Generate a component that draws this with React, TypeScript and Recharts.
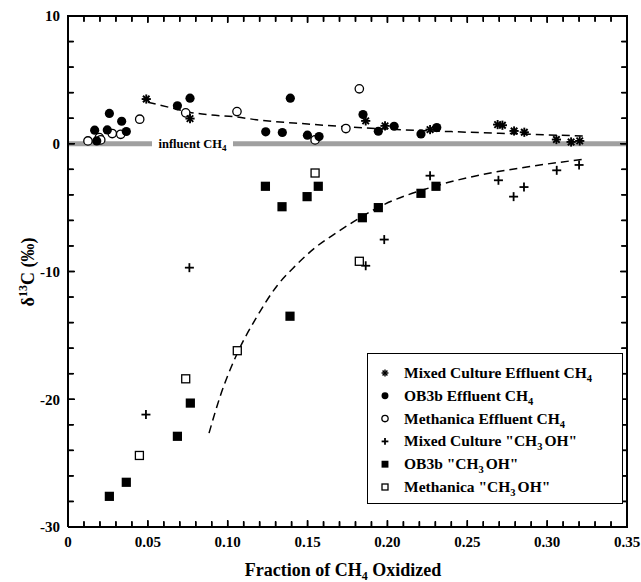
import React from "react";
import { ComposedChart, XAxis, YAxis, Scatter, Line, ReferenceLine } from "recharts";

const FONT = '"Liberation Serif", "Times New Roman", serif';

// [fraction of CH4 oxidized, d13C]
const mixedEffluent = [
    [0.049, 3.5], [0.0764, 1.97], [0.1864, 1.79], [0.1985, 1.4], [0.2267, 1.11],
    [0.269, 1.5], [0.272, 1.45], [0.2793, 1.0], [0.2857, 0.9], [0.3058, 0.33],
    [0.315, 0.14], [0.3204, 0.22],
];
const ob3bEffluent = [
    [0.0167, 1.06], [0.018, 0.22], [0.0246, 1.08], [0.0259, 2.37], [0.0336, 1.76],
    [0.0365, 0.96], [0.0685, 2.97], [0.0764, 3.57], [0.1238, 0.93], [0.1342, 0.88],
    [0.1392, 3.57], [0.1499, 0.67], [0.1572, 0.56], [0.1847, 2.29], [0.1943, 0.98],
    [0.2042, 1.37], [0.221, 0.77], [0.2309, 1.27],
];
const methanicaEffluent = [
    [0.0125, 0.22], [0.0196, 0.48], [0.0205, 0.3], [0.0277, 0.8], [0.033, 0.74],
    [0.0449, 1.92], [0.0737, 2.42], [0.1058, 2.52], [0.1547, 0.3], [0.174, 1.19],
    [0.1824, 4.3],
];
const mixedMeOH = [
    [0.0488, -21.2], [0.076, -9.7], [0.1864, -9.55], [0.198, -7.5], [0.2267, -2.5],
    [0.2695, -2.86], [0.279, -4.14], [0.2855, -3.39], [0.306, -2.08], [0.32, -1.66],
];
const ob3bMeOH = [
    [0.0259, -27.6], [0.0365, -26.5], [0.0685, -22.9], [0.0766, -20.3], [0.1236, -3.33],
    [0.134, -4.93], [0.139, -13.5], [0.1497, -4.14], [0.1567, -3.33], [0.1843, -5.79],
    [0.1943, -5.0], [0.221, -3.88], [0.2304, -3.33],
];
const methanicaMeOH = [
    [0.0447, -24.4], [0.0737, -18.4], [0.106, -16.2], [0.1547, -2.29], [0.1824, -9.2],
];

// dashed fit curves
const effluentFit = [
    [0.05, 3.25], [0.065, 2.8], [0.076, 2.47], [0.09, 2.25], [0.105, 2.1], [0.12, 1.85],
    [0.15, 1.55], [0.175, 1.32], [0.2, 1.15], [0.24, 0.95], [0.28, 0.78], [0.324, 0.6],
];
const methanolFit = [
    [0.0883, -22.65], [0.0952, -19.8], [0.106, -16.4], [0.118, -13.6], [0.1307, -11.15],
    [0.142, -9.6], [0.1547, -8.14], [0.168, -6.97], [0.1818, -5.87], [0.194, -5.0],
    [0.2304, -3.3], [0.26, -2.4], [0.2914, -1.74], [0.3237, -1.2],
];

const xDomain = [0, 0.35];
const yDomain = [-30, 10];
const xTicks = [0, 0.01, 0.02, 0.03, 0.04, 0.05, 0.06, 0.07, 0.08, 0.09, 0.1, 0.11, 0.12,
    0.13, 0.14, 0.15, 0.16, 0.17, 0.18, 0.19, 0.2, 0.21, 0.22, 0.23, 0.24, 0.25, 0.26, 0.27,
    0.28, 0.29, 0.3, 0.31, 0.32, 0.33, 0.34, 0.35];
const yTicks = [-30, -28, -26, -24, -22, -20, -18, -16, -14, -12, -10, -8, -6, -4, -2, 0,
    2, 4, 6, 8, 10];
const influentGap = [0.0526, 0.1033];

// plot box inside the 641 x 582 chart
const PLOT = { left: 68, top: 16, right: 627, bottom: 527 };

const pts = (arr: number[][]) => arr.map(([x, y]) => ({ x, y }));
const isMajorX = (v: number) => Math.round(v * 100) % 5 === 0;
const isMajorY = (v: number) => Math.round(v) % 10 === 0;
const px = (v: number) => PLOT.left + ((v - xDomain[0]) / (xDomain[1] - xDomain[0])) * (PLOT.right - PLOT.left);
const py = (v: number) => PLOT.bottom - ((v - yDomain[0]) / (yDomain[1] - yDomain[0])) * (PLOT.bottom - PLOT.top);

const Star = ({ cx, cy, s = 1 }: any) => {
    const r = 4.6 * s;
    const d = r * 0.7071;
    return (
        <g stroke="#000" strokeWidth={1.9 * s}>
            <line x1={cx - r} y1={cy} x2={cx + r} y2={cy} />
            <line x1={cx} y1={cy - r} x2={cx} y2={cy + r} />
            <line x1={cx - d} y1={cy - d} x2={cx + d} y2={cy + d} />
            <line x1={cx - d} y1={cy + d} x2={cx + d} y2={cy - d} />
        </g>
    );
};
const Dot = ({ cx, cy, s = 1 }: any) => <circle cx={cx} cy={cy} r={4.6 * s} fill="#000" />;
const Ring = ({ cx, cy, s = 1 }: any) => (
    <circle cx={cx} cy={cy} r={4.2 * s} fill="#fff" stroke="#000" strokeWidth={1.3} />
);
const Plus = ({ cx, cy, s = 1 }: any) => {
    const r = 4.5 * s;
    return (
        <g stroke="#000" strokeWidth={1.8}>
            <line x1={cx - r} y1={cy} x2={cx + r} y2={cy} />
            <line x1={cx} y1={cy - r} x2={cx} y2={cy + r} />
        </g>
    );
};
const Box = ({ cx, cy, s = 1 }: any) => {
    const h = 4.6 * s;
    return <rect x={cx - h} y={cy - h} width={2 * h} height={2 * h} fill="#000" />;
};
const OpenBox = ({ cx, cy, s = 1 }: any) => {
    const h = 4.0 * s;
    return <rect x={cx - h} y={cy - h} width={2 * h} height={2 * h} fill="#fff" stroke="#000" strokeWidth={1.3} />;
};
const Hidden = () => <g />;

const InfluentLabel = ({ viewBox }: any) => {
    const cx = viewBox.x + viewBox.width / 2;
    return (
        <text x={cx} y={viewBox.y + 4.5} textAnchor="middle" fontFamily={FONT} fontWeight="bold" fontSize={12.5}>
            influent CH<tspan fontSize={9} dy={3}>4</tspan>
        </text>
    );
};

const legendItems = [
    { label: "Mixed Culture Effluent CH", sub: "4", tail: "", Shape: Star },
    { label: "OB3b Effluent CH", sub: "4", tail: "", Shape: Dot },
    { label: "Methanica Effluent CH", sub: "4", tail: "", Shape: Ring },
    { label: "Mixed Culture \"CH", sub: "3", tail: "OH\"", Shape: Plus },
    { label: "OB3b \"CH", sub: "3", tail: "OH\"", Shape: Box },
    { label: "Methanica \"CH", sub: "3", tail: "OH\"", Shape: OpenBox },
];

const frame = { stroke: "#000", strokeWidth: 2 };
const tickLine = { stroke: "#000", strokeWidth: 1.5 };
const tickFont = { fontFamily: FONT, fontWeight: "bold", fontSize: 15, fill: "#000" };

// box edges and inward ticks, laid over the chart as a fallback
function Frame() {
    const w = 1.5;
    return (
        <g fill="#000">
            <rect x={PLOT.left - 1} y={PLOT.top - 1} width={PLOT.right - PLOT.left + 2} height={2} />
            <rect x={PLOT.right - 1} y={PLOT.top - 1} width={2} height={PLOT.bottom - PLOT.top + 2} />
            {xTicks.map((v, i) => {
                const l = isMajorX(v) ? 7 : 5;
                return (
                    <g key={`x${i}`}>
                        <rect x={px(v) - w / 2} y={PLOT.bottom - l} width={w} height={l} />
                        <rect x={px(v) - w / 2} y={PLOT.top} width={w} height={l} />
                    </g>
                );
            })}
            {yTicks.map((v, i) => {
                const l = isMajorY(v) ? 7 : 5;
                return (
                    <g key={`y${i}`}>
                        <rect x={PLOT.left} y={py(v) - w / 2} width={l} height={w} />
                        <rect x={PLOT.right - l} y={py(v) - w / 2} width={l} height={w} />
                    </g>
                );
            })}
        </g>
    );
}

export default function App() {
    return (
        <div style={{ position: "absolute", left: 0, top: 0, width: 641, height: 582, background: "#fff" }}>
            <ComposedChart width={641} height={582} margin={{ top: 0, right: 0, bottom: 0, left: 0 }}>
                <XAxis xAxisId="main" dataKey="x" type="number" domain={xDomain} ticks={xTicks}
                    interval={0} allowDataOverflow height={582 - PLOT.bottom} tickSize={-6} tickMargin={15}
                    tickLine={tickLine} tick={tickFont}
                    tickFormatter={(v: number) => (isMajorX(v) ? (v === 0 ? "0" : v.toFixed(2)) : "")}
                    axisLine={frame} />
                <XAxis xAxisId="top" orientation="top" dataKey="x" type="number" domain={xDomain}
                    ticks={xTicks} interval={0} allowDataOverflow height={PLOT.top} tickSize={-6}
                    tickLine={tickLine} tick={tickFont} tickFormatter={() => ""} axisLine={frame} />
                <YAxis yAxisId="main" dataKey="y" type="number" domain={yDomain} ticks={yTicks}
                    interval={0} allowDataOverflow width={PLOT.left} tickSize={-6} tickMargin={14}
                    tickLine={tickLine} tick={tickFont}
                    tickFormatter={(v: number) => (isMajorY(v) ? String(v) : "")} axisLine={frame} />
                <YAxis yAxisId="right" orientation="right" dataKey="y" type="number" domain={yDomain}
                    ticks={yTicks} interval={0} allowDataOverflow width={641 - PLOT.right} tickSize={-6}
                    tickLine={tickLine} tick={tickFont} tickFormatter={() => ""} axisLine={frame} />

                <ReferenceLine xAxisId="main" yAxisId="main" segment={[{ x: 0, y: 0 }, { x: influentGap[0], y: 0 }]} stroke="#a0a0a0" strokeWidth={5} />
                <ReferenceLine xAxisId="main" yAxisId="main" segment={[{ x: influentGap[1], y: 0 }, { x: 0.35, y: 0 }]} stroke="#a0a0a0" strokeWidth={5} />
                <ReferenceLine xAxisId="main" yAxisId="main"
                    segment={[{ x: influentGap[0], y: 0 }, { x: influentGap[1], y: 0 }]}
                    stroke="none" label={<InfluentLabel />} />

                <Line xAxisId="main" yAxisId="main" data={pts(effluentFit)} dataKey="y" type="monotone" dot={false}
                    stroke="#000" strokeWidth={1.5} strokeDasharray="8 5" isAnimationActive={false} />
                <Line xAxisId="main" yAxisId="main" data={pts(methanolFit)} dataKey="y" type="monotone" dot={false}
                    stroke="#000" strokeWidth={1.5} strokeDasharray="8 5" isAnimationActive={false} />

                {/* ties the mirrored top / right axes to the same data */}
                <Scatter xAxisId="top" yAxisId="right" data={pts(ob3bMeOH)} shape={Hidden} isAnimationActive={false} />

                <Scatter xAxisId="main" yAxisId="main" name="Methanica Effluent CH4" data={pts(methanicaEffluent)} shape={(p: any) => <Ring cx={p.cx} cy={p.cy} />} isAnimationActive={false} />
                <Scatter xAxisId="main" yAxisId="main" name="OB3b Effluent CH4" data={pts(ob3bEffluent)} shape={(p: any) => <Dot cx={p.cx} cy={p.cy} />} isAnimationActive={false} />
                <Scatter xAxisId="main" yAxisId="main" name="Mixed Culture Effluent CH4" data={pts(mixedEffluent)} shape={(p: any) => <Star cx={p.cx} cy={p.cy} />} isAnimationActive={false} />
                <Scatter xAxisId="main" yAxisId="main" name="Mixed Culture CH3OH" data={pts(mixedMeOH)} shape={(p: any) => <Plus cx={p.cx} cy={p.cy} />} isAnimationActive={false} />
                <Scatter xAxisId="main" yAxisId="main" name="OB3b CH3OH" data={pts(ob3bMeOH)} shape={(p: any) => <Box cx={p.cx} cy={p.cy} />} isAnimationActive={false} />
                <Scatter xAxisId="main" yAxisId="main" name="Methanica CH3OH" data={pts(methanicaMeOH)} shape={(p: any) => <OpenBox cx={p.cx} cy={p.cy} />} isAnimationActive={false} />
            </ComposedChart>

            {/* box, ticks and axis titles */}
            <svg width={641} height={582} style={{ position: "absolute", left: 0, top: 0, pointerEvents: "none" }}>
                <Frame />
                <text x={343} y={576} textAnchor="middle" fontFamily={FONT} fontWeight="bold" fontSize={18}>
                    Fraction of CH<tspan fontSize={12} dy={4}>4</tspan><tspan dy={-4}> Oxidized</tspan>
                </text>
                <text transform="translate(34,272) rotate(-90)" textAnchor="middle" fontFamily={FONT} fontWeight="bold" fontSize={18}>
                    δ<tspan fontSize={12} dy={-7}>13</tspan><tspan dy={7}>C (‰)</tspan>
                </text>
            </svg>

            {/* legend */}
            <svg width={256} height={151} style={{ position: "absolute", left: 367, top: 353 }}>
                <rect x={0.5} y={0.5} width={255} height={150} fill="#fff" stroke="#000" strokeWidth={1} />
                {legendItems.map((it, i) => {
                    const cy = 20 + i * 22.8;
                    const S = it.Shape;
                    return (
                        <g key={i}>
                            <S cx={18} cy={cy} s={0.75} />
                            <text x={37} y={cy + 5} fontFamily={FONT} fontWeight="bold" fontSize={15.5}>
                                {it.label}
                                <tspan fontSize={10.5} dy={4}>{it.sub}</tspan>
                                <tspan dy={-4} dx={it.tail ? 2 : 0}>{it.tail}</tspan>
                            </text>
                        </g>
                    );
                })}
            </svg>
        </div>
    );
}
